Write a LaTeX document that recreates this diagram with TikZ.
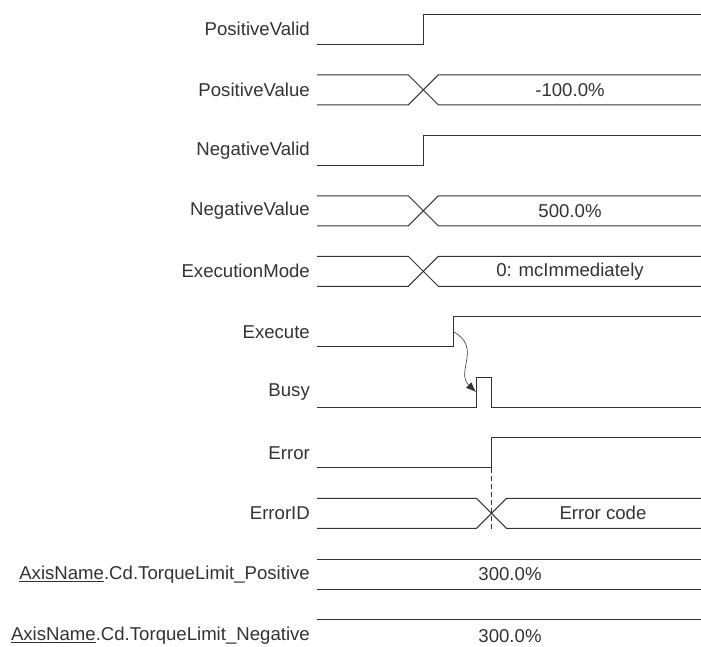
\documentclass[tikz,border=0pt]{standalone}
\usepackage{fontspec}
\setmainfont{Liberation Sans}
\usetikzlibrary{arrows.meta}
\definecolor{ink}{HTML}{333333}
\begin{document}
\begin{tikzpicture}[x=1pt,y=-1pt,
  sig/.style={draw=ink,line width=1pt},
  lbl/.style={anchor=east,inner sep=0pt,text=ink,font=\fontsize{18.6}{21}\selectfont},
  val/.style={inner sep=0pt,text=ink,font=\fontsize{18.6}{21}\selectfont},
  cause/.style={draw=ink,line width=0.6pt,-{Latex[length=10pt,width=8pt]}},
  guide/.style={draw=ink,line width=0.8pt,dash pattern=on 5pt off 3pt}]
\clip (0,0) rectangle (701,646);
% PositiveValid
\node[lbl] (l1) at (310,29.3) {PositiveValid};
\draw[sig] (317,44.3) -- (423.3,44.3) -- (423.3,14.3) -- (701,14.3);
% PositiveValue
\node[lbl] (l2) at (310,89.8) {PositiveValue};
\draw[sig] (317,74.8) -- (408.3,74.8) -- (438.3,104.8) -- (701,104.8);
\draw[sig] (317,104.8) -- (408.3,104.8) -- (438.3,74.8) -- (701,74.8);
\node[val] (v2) at (570,89.8) {-100.0\%};
% NegativeValid
\node[lbl] (l3) at (310,150.3) {NegativeValid};
\draw[sig] (317,165.3) -- (423.3,165.3) -- (423.3,135.3) -- (701,135.3);
% NegativeValue
\node[lbl] (l4) at (310,210.8) {NegativeValue};
\draw[sig] (317,195.8) -- (408.3,195.8) -- (438.3,225.8) -- (701,225.8);
\draw[sig] (317,225.8) -- (408.3,225.8) -- (438.3,195.8) -- (701,195.8);
\node[val] (v4) at (570,210.8) {500.0\%};
% ExecutionMode
\node[lbl] (l5) at (310,271.3) {ExecutionMode};
\draw[sig] (317,256.3) -- (408.3,256.3) -- (438.3,286.3) -- (701,286.3);
\draw[sig] (317,286.3) -- (408.3,286.3) -- (438.3,256.3) -- (701,256.3);
\node[val] (v5) at (570,271.3) {0: mcImmediately};
% Execute
\node[lbl] (l6) at (310,331.8) {Execute};
\draw[sig] (317,346.8) -- (453.7,346.8) -- (453.7,316.8) -- (701,316.8);
% Busy
\node[lbl] (l7) at (310,392.3) {Busy};
\draw[sig] (317,407.3) -- (476.7,407.3) -- (476.7,377.3) -- (491.3,377.3) -- (491.3,407.3) -- (701,407.3);
% Error
\node[lbl] (l8) at (310,452.8) {Error};
\draw[sig] (317,467.8) -- (491.3,467.8) -- (491.3,437.8) -- (701,437.8);
% ErrorID
\node[lbl] (l9) at (310,513.3) {ErrorID};
\draw[sig] (317,498.3) -- (476.5,498.3) -- (506.5,528.3) -- (701,528.3);
\draw[sig] (317,528.3) -- (476.5,528.3) -- (506.5,498.3) -- (701,498.3);
\node[val] (v9) at (603,513.3) {Error code};
% Torque limits
\node[lbl] (l10) at (310,574.3) {\underline{AxisName}.Cd.TorqueLimit\_Positive};
\draw[sig] (317,559.3) -- (701,559.3);
\draw[sig] (317,589.3) -- (701,589.3);
\node[val] (v10) at (510,574.3) {300.0\%};
\node[lbl] (l11) at (310,636) {\underline{AxisName}.Cd.TorqueLimit\_Negative};
\draw[sig] (317,619.3) -- (701,619.3);
\draw[sig] (317,649.3) -- (701,649.3);
\node[val] (v11) at (510,636) {300.0\%};
% causal arrow and guide
\coordinate (a1) at (454,332);
\coordinate (a2) at (476,392);
\draw[cause] (a1) .. controls (482,348) and (455,372) .. (a2);
\coordinate (g1) at (491.3,468);
\coordinate (g2) at (491.3,531);
\draw[guide] (g1) -- (g2);
\end{tikzpicture}
\end{document}
